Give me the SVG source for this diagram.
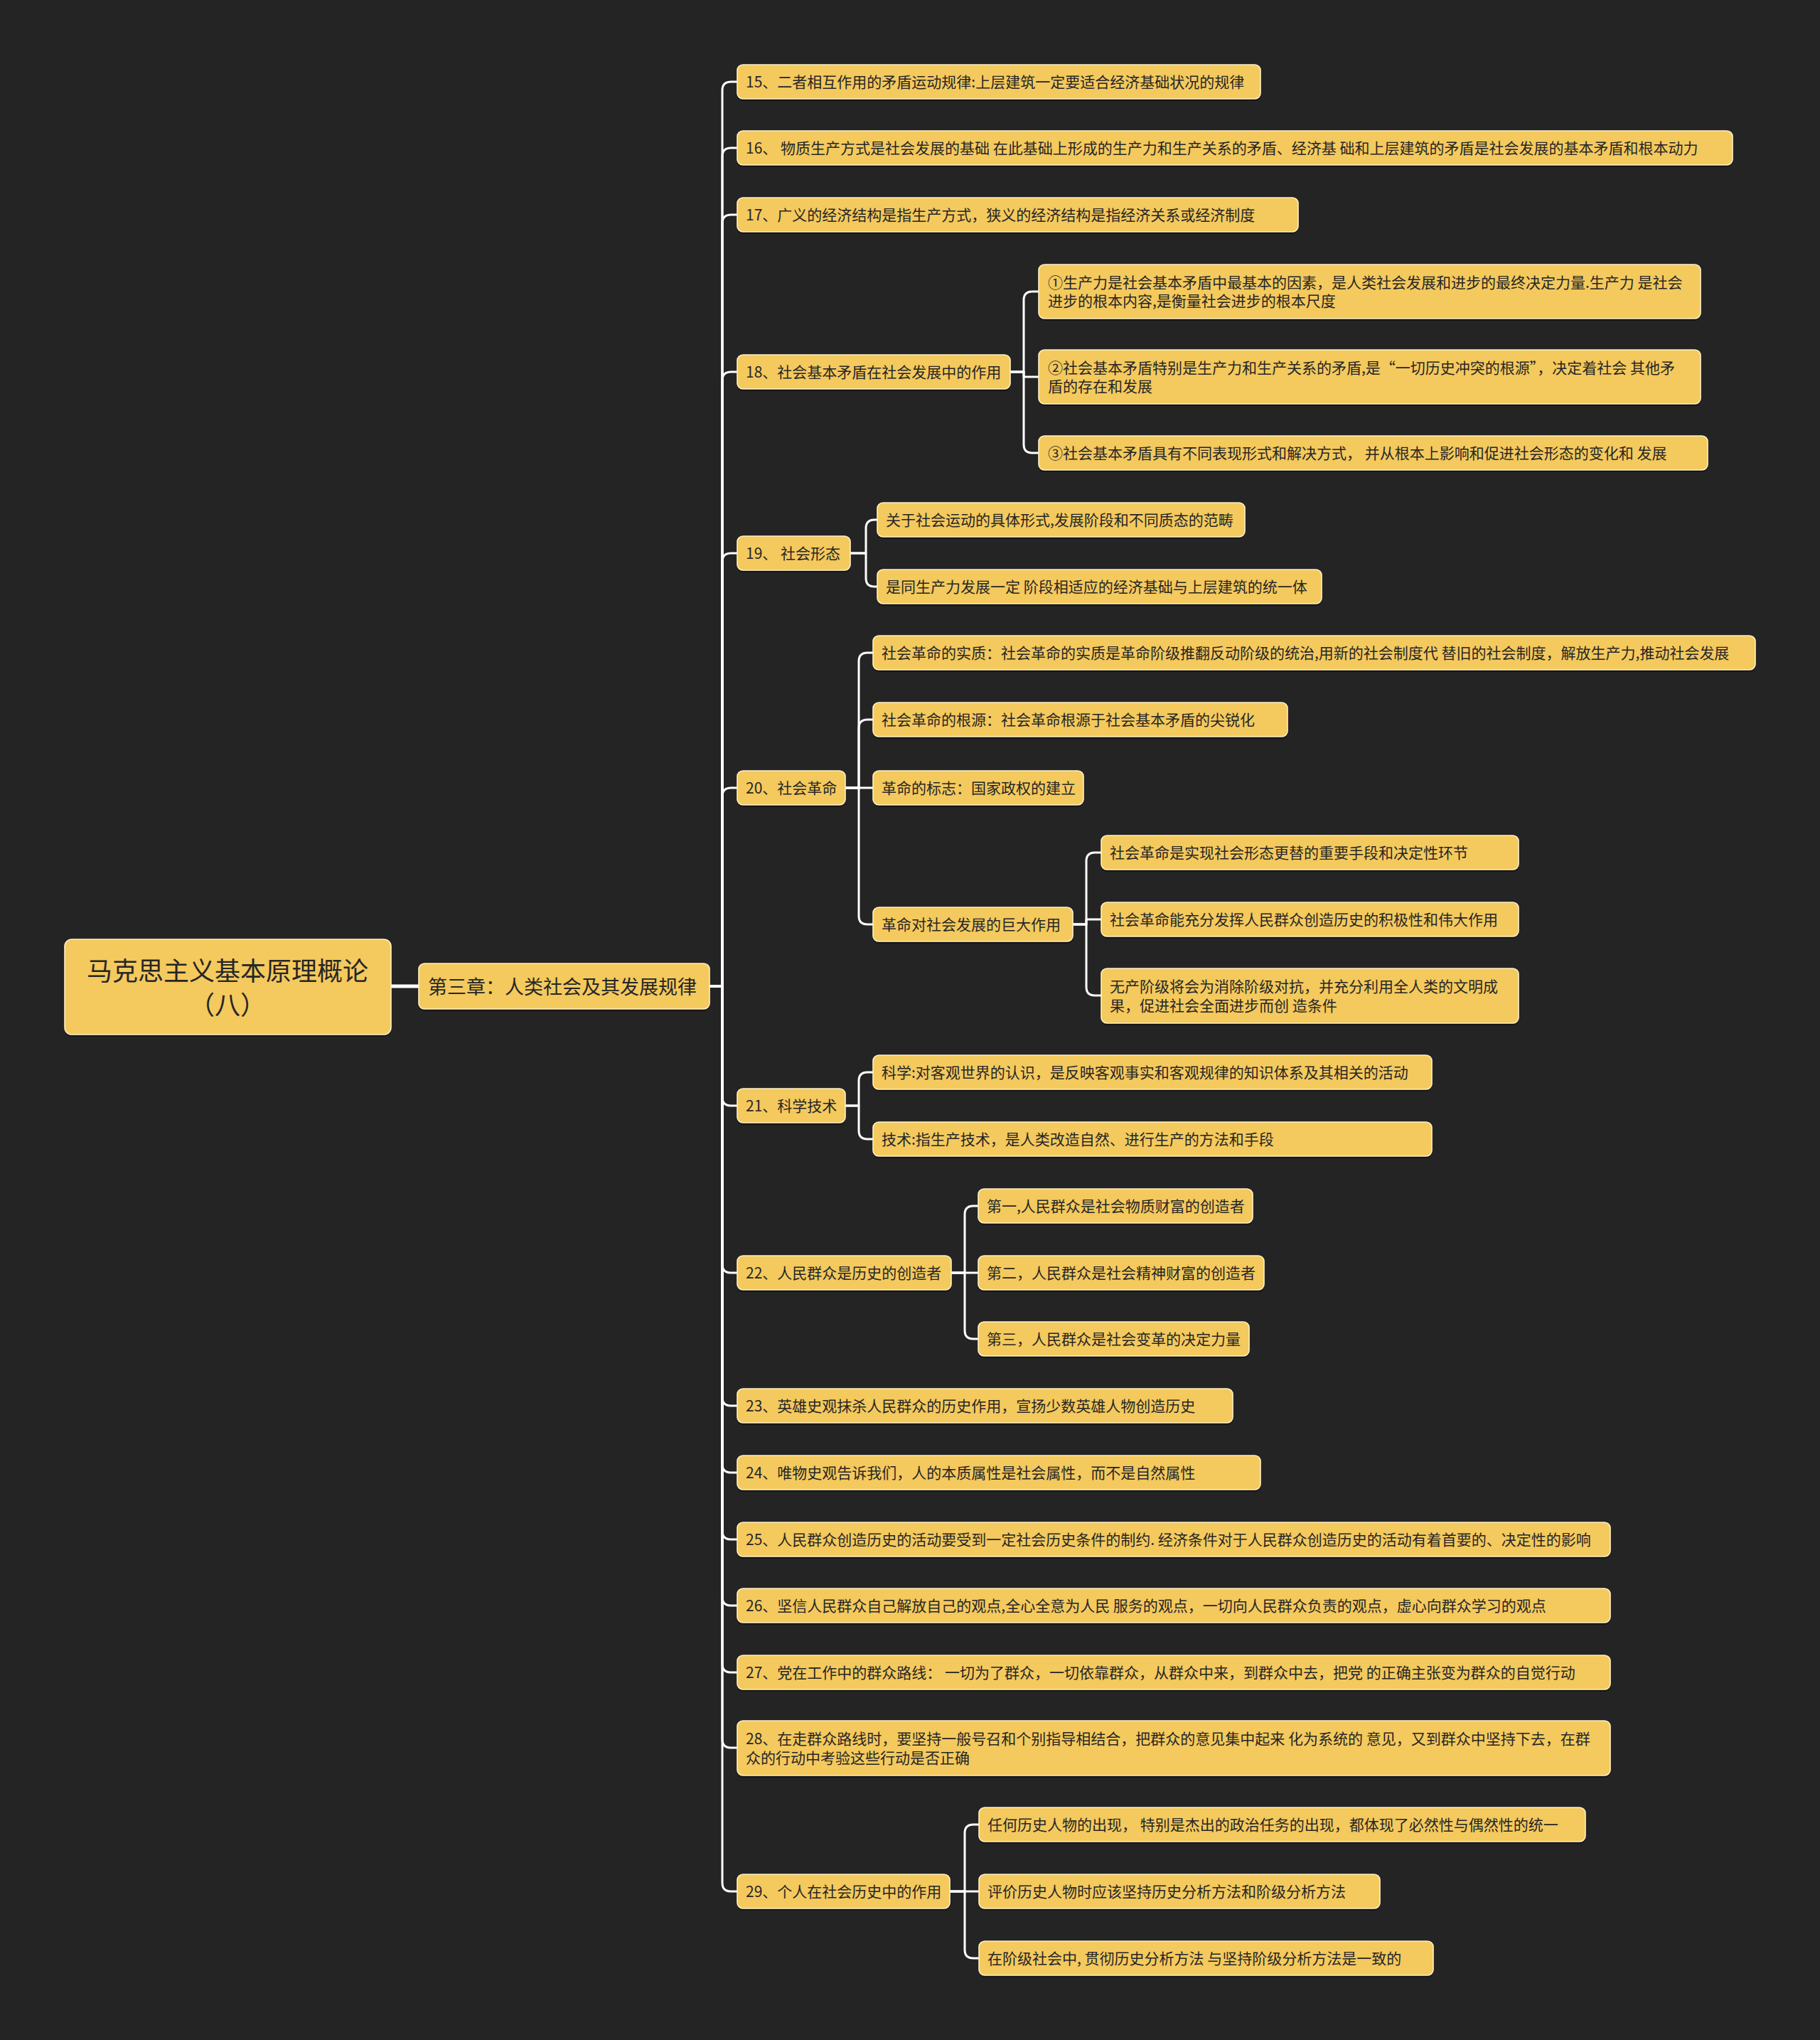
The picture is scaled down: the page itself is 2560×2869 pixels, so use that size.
<svg xmlns="http://www.w3.org/2000/svg" width="2560" height="2869" viewBox="0 0 2560 2869">
<style>
.bg{fill:#242424}
.n rect.s{fill:#111111;opacity:0.7}
.n rect.b{fill:#F4C95D;stroke:#FFF1C4;stroke-width:1.6}
.n text{font-family:"Noto Sans CJK SC","Noto Sans",sans-serif;fill:#262626;font-size:21px;dominant-baseline:central}
.root text{font-size:36px;text-anchor:middle}
.ch text{font-size:27px}
.c path{fill:none;stroke:#FFFFFF;stroke-width:3;stroke-linecap:round;stroke-linejoin:round}
</style>
<rect class="bg" x="0" y="0" width="2560" height="2869"/>
<g class="c" id="connectors">
<path d="M550 1387 H589" style="stroke-width:5"/>
<path d="M998 1387 H1016 V127 Q1016 115 1028 115 H1037"/>
<path d="M998 1387 H1016 V220 Q1016 208 1028 208 H1037"/>
<path d="M998 1387 H1016 V314 Q1016 302 1028 302 H1037"/>
<path d="M998 1387 H1016 V535 Q1016 523 1028 523 H1037"/>
<path d="M998 1387 H1016 V790 Q1016 778 1028 778 H1037"/>
<path d="M998 1387 H1016 V1120 Q1016 1108 1028 1108 H1037"/>
<path d="M998 1387 H1016 V1543 Q1016 1555 1028 1555 H1037"/>
<path d="M998 1387 H1016 V1778 Q1016 1790 1028 1790 H1037"/>
<path d="M998 1387 H1016 V1965 Q1016 1977 1028 1977 H1037"/>
<path d="M998 1387 H1016 V2059 Q1016 2071 1028 2071 H1037"/>
<path d="M998 1387 H1016 V2153 Q1016 2165 1028 2165 H1037"/>
<path d="M998 1387 H1016 V2246 Q1016 2258 1028 2258 H1037"/>
<path d="M998 1387 H1016 V2340 Q1016 2352 1028 2352 H1037"/>
<path d="M998 1387 H1016 V2446 Q1016 2458 1028 2458 H1037"/>
<path d="M998 1387 H1016 V2648 Q1016 2660 1028 2660 H1037"/>
<path d="M1421 523 H1440 V422 Q1440 410 1452 410 H1461"/>
<path d="M1421 523 H1440 V530 H1461"/>
<path d="M1421 523 H1440 V625 Q1440 637 1452 637 H1461"/>
<path d="M1196 778 H1218 V743 Q1218 731 1230 731 H1234"/>
<path d="M1196 778 H1218 V813 Q1218 825 1230 825 H1234"/>
<path d="M1189 1108 H1208 V930 Q1208 918 1220 918 H1228"/>
<path d="M1189 1108 H1208 V1024 Q1208 1012 1220 1012 H1228"/>
<path d="M1189 1108 H1228"/>
<path d="M1189 1108 H1208 V1288 Q1208 1300 1220 1300 H1228"/>
<path d="M1509 1300 H1528 V1211 Q1528 1199 1540 1199 H1549"/>
<path d="M1509 1300 H1528 V1293 H1549"/>
<path d="M1509 1300 H1528 V1388 Q1528 1400 1540 1400 H1549"/>
<path d="M1189 1555 H1208 V1520 Q1208 1508 1220 1508 H1228"/>
<path d="M1189 1555 H1208 V1590 Q1208 1602 1220 1602 H1228"/>
<path d="M1338 1790 H1357 V1708 Q1357 1696 1369 1696 H1376"/>
<path d="M1338 1790 H1376"/>
<path d="M1338 1790 H1357 V1871 Q1357 1883 1369 1883 H1376"/>
<path d="M1336 2660 H1357 V2578 Q1357 2566 1369 2566 H1377"/>
<path d="M1336 2660 H1377"/>
<path d="M1336 2660 H1357 V2742 Q1357 2754 1369 2754 H1377"/>
</g>

<g class="n root" id="root"><rect class="s" x="91" y="1324" width="459" height="134" rx="10"/><rect class="b" x="91" y="1321" width="459" height="134" rx="10"/><text x="320" y="1363">马克思主义基本原理概论</text><text x="320" y="1411">（八）</text></g>
<g class="n ch" id="chapter"><rect class="s" x="589" y="1358" width="409" height="64" rx="8"/><rect class="b" x="589" y="1355" width="409" height="64" rx="8"/><text x="602" y="1386">第三章：人类社会及其发展规律</text></g>

<g class="n" id="n15"><rect class="s" x="1037" y="94" width="736" height="48" rx="8"/><rect class="b" x="1037" y="91" width="736" height="48" rx="8"/><text x="1049" y="114">15、二者相互作用的矛盾运动规律:上层建筑一定要适合经济基础状况的规律</text></g>
<g class="n" id="n16"><rect class="s" x="1037" y="187" width="1400" height="48" rx="8"/><rect class="b" x="1037" y="184" width="1400" height="48" rx="8"/><text x="1049" y="207">16、 物质生产方式是社会发展的基础 在此基础上形成的生产力和生产关系的矛盾、经济基 础和上层建筑的矛盾是社会发展的基本矛盾和根本动力</text></g>
<g class="n" id="n17"><rect class="s" x="1037" y="281" width="789" height="48" rx="8"/><rect class="b" x="1037" y="278" width="789" height="48" rx="8"/><text x="1049" y="301">17、广义的经济结构是指生产方式，狭义的经济结构是指经济关系或经济制度</text></g>
<g class="n" id="n18"><rect class="s" x="1037" y="502" width="384" height="48" rx="8"/><rect class="b" x="1037" y="499" width="384" height="48" rx="8"/><text x="1049" y="522">18、社会基本矛盾在社会发展中的作用</text></g>
<g class="n" id="n18a"><rect class="s" x="1461" y="375" width="931" height="76" rx="8"/><rect class="b" x="1461" y="372" width="931" height="76" rx="8"/><text x="1474" y="396">①生产力是社会基本矛盾中最基本的因素，是人类社会发展和进步的最终决定力量.生产力 是社会</text><text x="1474" y="422">进步的根本内容,是衡量社会进步的根本尺度</text></g>
<g class="n" id="n18b"><rect class="s" x="1461" y="495" width="931" height="76" rx="8"/><rect class="b" x="1461" y="492" width="931" height="76" rx="8"/><text x="1474" y="516">②社会基本矛盾特别是生产力和生产关系的矛盾,是“一切历史冲突的根源”，决定着社会 其他矛</text><text x="1474" y="542">盾的存在和发展</text></g>
<g class="n" id="n18c"><rect class="s" x="1461" y="616" width="941" height="48" rx="8"/><rect class="b" x="1461" y="613" width="941" height="48" rx="8"/><text x="1474" y="636">③社会基本矛盾具有不同表现形式和解决方式， 并从根本上影响和促进社会形态的变化和 发展</text></g>
<g class="n" id="n19"><rect class="s" x="1037" y="757" width="159" height="48" rx="8"/><rect class="b" x="1037" y="754" width="159" height="48" rx="8"/><text x="1049" y="777">19、 社会形态</text></g>
<g class="n" id="n19a"><rect class="s" x="1234" y="710" width="517" height="48" rx="8"/><rect class="b" x="1234" y="707" width="517" height="48" rx="8"/><text x="1246" y="730">关于社会运动的具体形式,发展阶段和不同质态的范畴</text></g>
<g class="n" id="n19b"><rect class="s" x="1234" y="804" width="625" height="48" rx="8"/><rect class="b" x="1234" y="801" width="625" height="48" rx="8"/><text x="1246" y="824">是同生产力发展一定 阶段相适应的经济基础与上层建筑的统一体</text></g>
<g class="n" id="n20"><rect class="s" x="1037" y="1087" width="152" height="48" rx="8"/><rect class="b" x="1037" y="1084" width="152" height="48" rx="8"/><text x="1049" y="1107">20、社会革命</text></g>
<g class="n" id="n20a"><rect class="s" x="1228" y="897" width="1241" height="48" rx="8"/><rect class="b" x="1228" y="894" width="1241" height="48" rx="8"/><text x="1240" y="917">社会革命的实质：社会革命的实质是革命阶级推翻反动阶级的统治,用新的社会制度代 替旧的社会制度，解放生产力,推动社会发展</text></g>
<g class="n" id="n20b"><rect class="s" x="1228" y="991" width="583" height="48" rx="8"/><rect class="b" x="1228" y="988" width="583" height="48" rx="8"/><text x="1240" y="1011">社会革命的根源：社会革命根源于社会基本矛盾的尖锐化</text></g>
<g class="n" id="n20c"><rect class="s" x="1228" y="1087" width="296" height="48" rx="8"/><rect class="b" x="1228" y="1084" width="296" height="48" rx="8"/><text x="1240" y="1107">革命的标志：国家政权的建立</text></g>
<g class="n" id="n20d"><rect class="s" x="1228" y="1279" width="281" height="48" rx="8"/><rect class="b" x="1228" y="1276" width="281" height="48" rx="8"/><text x="1240" y="1299">革命对社会发展的巨大作用</text></g>
<g class="n" id="n20d1"><rect class="s" x="1549" y="1178" width="587" height="48" rx="8"/><rect class="b" x="1549" y="1175" width="587" height="48" rx="8"/><text x="1561" y="1198">社会革命是实现社会形态更替的重要手段和决定性环节</text></g>
<g class="n" id="n20d2"><rect class="s" x="1549" y="1272" width="587" height="48" rx="8"/><rect class="b" x="1549" y="1269" width="587" height="48" rx="8"/><text x="1561" y="1292">社会革命能充分发挥人民群众创造历史的积极性和伟大作用</text></g>
<g class="n" id="n20d3"><rect class="s" x="1549" y="1365" width="587" height="77" rx="8"/><rect class="b" x="1549" y="1362" width="587" height="77" rx="8"/><text x="1561" y="1386">无产阶级将会为消除阶级对抗，并充分利用全人类的文明成</text><text x="1561" y="1413">果，促进社会全面进步而创 造条件</text></g>
<g class="n" id="n21"><rect class="s" x="1037" y="1534" width="152" height="48" rx="8"/><rect class="b" x="1037" y="1531" width="152" height="48" rx="8"/><text x="1049" y="1554">21、科学技术</text></g>
<g class="n" id="n21a"><rect class="s" x="1228" y="1487" width="786" height="48" rx="8"/><rect class="b" x="1228" y="1484" width="786" height="48" rx="8"/><text x="1240" y="1507">科学:对客观世界的认识，是反映客观事实和客观规律的知识体系及其相关的活动</text></g>
<g class="n" id="n21b"><rect class="s" x="1228" y="1581" width="786" height="48" rx="8"/><rect class="b" x="1228" y="1578" width="786" height="48" rx="8"/><text x="1240" y="1601">技术:指生产技术，是人类改造自然、进行生产的方法和手段</text></g>
<g class="n" id="n22"><rect class="s" x="1037" y="1769" width="301" height="48" rx="8"/><rect class="b" x="1037" y="1766" width="301" height="48" rx="8"/><text x="1049" y="1789">22、人民群众是历史的创造者</text></g>
<g class="n" id="n22a"><rect class="s" x="1376" y="1675" width="386" height="48" rx="8"/><rect class="b" x="1376" y="1672" width="386" height="48" rx="8"/><text x="1388" y="1695">第一,人民群众是社会物质财富的创造者</text></g>
<g class="n" id="n22b"><rect class="s" x="1376" y="1769" width="402" height="48" rx="8"/><rect class="b" x="1376" y="1766" width="402" height="48" rx="8"/><text x="1388" y="1789">第二，人民群众是社会精神财富的创造者</text></g>
<g class="n" id="n22c"><rect class="s" x="1376" y="1862" width="381" height="48" rx="8"/><rect class="b" x="1376" y="1859" width="381" height="48" rx="8"/><text x="1388" y="1882">第三，人民群众是社会变革的决定力量</text></g>
<g class="n" id="n23"><rect class="s" x="1037" y="1956" width="697" height="48" rx="8"/><rect class="b" x="1037" y="1953" width="697" height="48" rx="8"/><text x="1049" y="1976">23、英雄史观抹杀人民群众的历史作用，宣扬少数英雄人物创造历史</text></g>
<g class="n" id="n24"><rect class="s" x="1037" y="2050" width="736" height="48" rx="8"/><rect class="b" x="1037" y="2047" width="736" height="48" rx="8"/><text x="1049" y="2070">24、唯物史观告诉我们，人的本质属性是社会属性，而不是自然属性</text></g>
<g class="n" id="n25"><rect class="s" x="1037" y="2144" width="1228" height="48" rx="8"/><rect class="b" x="1037" y="2141" width="1228" height="48" rx="8"/><text x="1049" y="2164">25、人民群众创造历史的活动要受到一定社会历史条件的制约. 经济条件对于人民群众创造历史的活动有着首要的、决定性的影响</text></g>
<g class="n" id="n26"><rect class="s" x="1037" y="2237" width="1228" height="48" rx="8"/><rect class="b" x="1037" y="2234" width="1228" height="48" rx="8"/><text x="1049" y="2257">26、坚信人民群众自己解放自己的观点,全心全意为人民 服务的观点，一切向人民群众负责的观点，虚心向群众学习的观点</text></g>
<g class="n" id="n27"><rect class="s" x="1037" y="2331" width="1228" height="48" rx="8"/><rect class="b" x="1037" y="2328" width="1228" height="48" rx="8"/><text x="1049" y="2351">27、党在工作中的群众路线： 一切为了群众，一切依靠群众，从群众中来，到群众中去，把党 的正确主张变为群众的自觉行动</text></g>
<g class="n" id="n28"><rect class="s" x="1037" y="2423" width="1228" height="77" rx="8"/><rect class="b" x="1037" y="2420" width="1228" height="77" rx="8"/><text x="1049" y="2444">28、在走群众路线时，要坚持一般号召和个别指导相结合，把群众的意见集中起来 化为系统的 意见，又到群众中坚持下去，在群</text><text x="1049" y="2471">众的行动中考验这些行动是否正确</text></g>
<g class="n" id="n29"><rect class="s" x="1037" y="2639" width="299" height="48" rx="8"/><rect class="b" x="1037" y="2636" width="299" height="48" rx="8"/><text x="1049" y="2659">29、个人在社会历史中的作用</text></g>
<g class="n" id="n29a"><rect class="s" x="1377" y="2545" width="853" height="48" rx="8"/><rect class="b" x="1377" y="2542" width="853" height="48" rx="8"/><text x="1389" y="2565">任何历史人物的出现， 特别是杰出的政治任务的出现，都体现了必然性与偶然性的统一</text></g>
<g class="n" id="n29b"><rect class="s" x="1377" y="2639" width="564" height="48" rx="8"/><rect class="b" x="1377" y="2636" width="564" height="48" rx="8"/><text x="1389" y="2659">评价历史人物时应该坚持历史分析方法和阶级分析方法</text></g>
<g class="n" id="n29c"><rect class="s" x="1377" y="2733" width="639" height="48" rx="8"/><rect class="b" x="1377" y="2730" width="639" height="48" rx="8"/><text x="1389" y="2753">在阶级社会中, 贯彻历史分析方法 与坚持阶级分析方法是一致的</text></g>
</svg>
